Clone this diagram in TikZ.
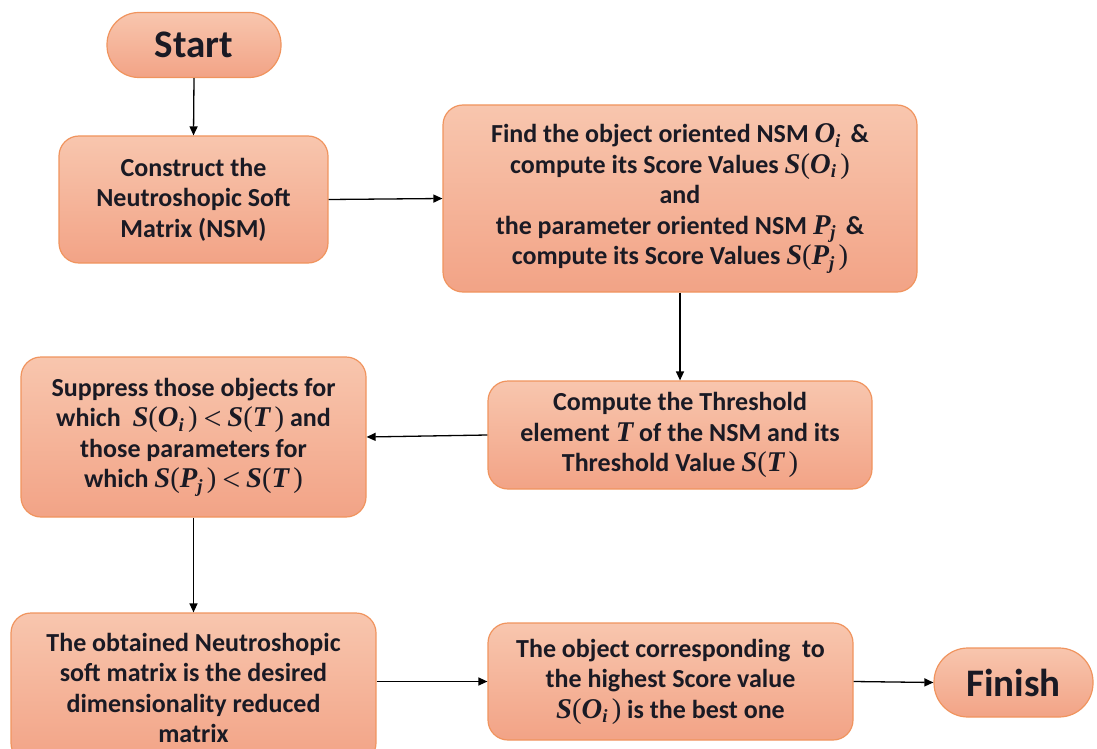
\documentclass[tikz,border=0pt]{standalone}
\usepackage{fontspec}
\setmainfont{Carlito}
\newfontfamily\mf[Scale=1.1]{Liberation Serif}
\usetikzlibrary{arrows.meta}
\definecolor{boxtop}{HTML}{F8C6AE}
\definecolor{boxbot}{HTML}{F2A386}
\definecolor{boxline}{HTML}{F0945E}
\definecolor{txt}{HTML}{1A1A24}
\newcommand{\V}[1]{{\mf\bfseries\itshape #1}}
\newcommand{\Sb}[1]{\raisebox{-0.35ex}{\fontsize{17}{17}\selectfont\V{#1}}\,}
\newcommand{\Lp}{{\mf\mdseries\upshape(}}
\newcommand{\Rp}{{\mf\mdseries\upshape)}}
\newcommand{\LT}{\ \smash{\raisebox{-0.25ex}{\fontsize{29}{29}\selectfont\mf\mdseries\upshape<}}\ }
\newcommand{\SO}{\V{S}\Lp\V{O}\Sb{i}\Rp}
\newcommand{\SP}{\V{S}\Lp\V{P}\Sb{j}\Rp}
\newcommand{\ST}{\V{S}\Lp\V{T}\,\Rp}
\begin{document}
\begin{tikzpicture}[x=1pt,y=-1pt,
  box/.style={draw=boxline, line width=1.2pt, rounded corners=20pt,
    top color=boxtop, bottom color=boxbot, align=center, text=txt,
    font=\fontsize{26}{30.5}\selectfont\bfseries, inner sep=0pt},
  term/.style={box, rounded corners=32pt, font=\fontsize{39}{44}\selectfont\bfseries},
  arr/.style={-{Triangle[length=9pt,width=8pt]}, line width=1.3pt, black}]
\useasboundingbox (0,0) rectangle (1097,749);
\node[term, minimum width=174pt, minimum height=65pt] (start) at (194,45) {Start};
\node[box, minimum width=269pt, minimum height=127pt] (b1) at (193.5,199.5)
  {Construct the\\Neutroshopic Soft\\Matrix (NSM)};
\node[box, minimum width=474pt, minimum height=187pt] (b2) at (680,198.5)
  {Find the object oriented NSM \V{O}\Sb{i} \&\\compute its Score Values \SO\\and\\the parameter oriented NSM \V{P}\Sb{j} \&\\compute its Score Values \SP};
\node[box, minimum width=384pt, minimum height=108pt] (b3) at (680,435)
  {Compute the Threshold\\element \V{T} of the NSM and its\\Threshold Value \ST};
\node[box, minimum width=345pt, minimum height=160pt] (b4) at (193.5,437)
  {Suppress those objects for\\which \ \SO\LT\ST\ and\\those parameters for\\which \SP\LT\ST};
\node[box, minimum width=365pt, minimum height=150pt] (b5) at (193.5,688)
  {The obtained Neutroshopic\\soft matrix is the desired\\dimensionality reduced\\matrix};
\node[box, minimum width=365pt, minimum height=117pt] (b6) at (670.5,681.5)
  {The object corresponding \ to\\the highest Score value\\\SO\ is the best one};
\node[term, rounded corners=34pt, minimum width=159pt, minimum height=69pt] (fin) at (1013.5,682.5) {Finish};
\draw[arr] (start.south) -- (b1.north);
\draw[arr] (b1.east) -- (b2.west);
\draw[arr] (b2.south) -- (b3.north);
\draw[arr] (b3.west) -- (b4.east);
\draw[arr] (b4.south) -- (b5.north);
\draw[arr] (b5.east |- b6.west) -- (b6.west);
\draw[arr] (b6.east) -- (fin.west);
\end{tikzpicture}
\end{document}
